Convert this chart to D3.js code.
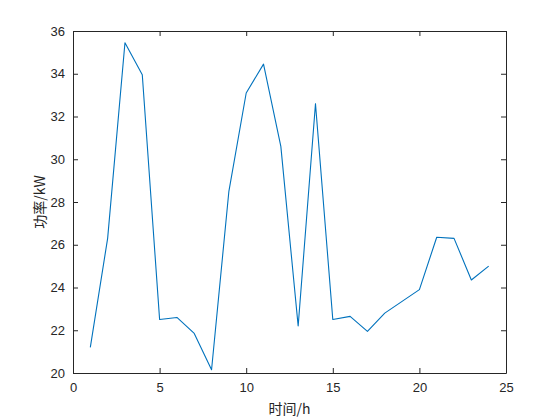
<!DOCTYPE html>
<html>
<head>
<meta charset="utf-8">
<script src="https://cdn.jsdelivr.net/npm/d3@7"></script>
<style>
  body { margin: 0; background: #fff; }
  text { font-family: "Liberation Sans", Arial, sans-serif; }
</style>
</head>
<body>
<svg width="560" height="420"></svg>
<script>
// hours and power readings
const hours = [1, 2, 3, 4, 5, 6, 7, 8, 9, 10, 11, 12, 13, 14, 15, 16, 17, 18, 19, 20, 21, 22, 23, 24];
const power = [21.2, 26.3, 35.45, 33.95, 22.5, 22.6, 21.85, 20.15, 28.5, 33.1, 34.45, 30.6,
               22.2, 32.6, 22.5, 22.65, 21.95, 22.8, 23.35, 23.9, 26.35, 26.3, 24.35, 25.0];
const xTicks = [0, 5, 10, 15, 20, 25];
const yTicks = [20, 22, 24, 26, 28, 30, 32, 34, 36];

const margin = {top: 31, right: 54, bottom: 47, left: 73},
      width = 560 - margin.left - margin.right,
      height = 420 - margin.top - margin.bottom;

const axisColor = "#262626";

const svg = d3.select("svg")
  .append("g")
    .attr("transform", `translate(${margin.left},${margin.top})`);

const x = d3.scaleLinear().domain([0, 25]).range([0, width]);
const y = d3.scaleLinear().domain([20, 36]).range([height, 0]);

// axes: ticks pointing inward, on all four sides (box on)
function styleAxis(g) {
  g.selectAll("path, line").attr("stroke", axisColor);
  g.selectAll("text").attr("fill", axisColor).style("font-size", "13px");
}

svg.append("g")
  .attr("transform", `translate(0,${height})`)
  .call(d3.axisBottom(x).tickValues(xTicks).tickSizeInner(-5).tickSizeOuter(0).tickPadding(10))
  .call(styleAxis);

svg.append("g")
  .call(d3.axisLeft(y).tickValues(yTicks).tickSizeInner(-5).tickSizeOuter(0).tickPadding(8))
  .call(styleAxis);

svg.append("g")
  .call(d3.axisTop(x).tickValues(xTicks).tickSizeInner(-5).tickSizeOuter(0).tickFormat(""))
  .call(styleAxis);

svg.append("g")
  .attr("transform", `translate(${width},0)`)
  .call(d3.axisRight(y).tickValues(yTicks).tickSizeInner(-5).tickSizeOuter(0).tickFormat(""))
  .call(styleAxis);

// the line
svg.append("path")
  .datum(hours.map((h, i) => [h, power[i]]))
  .attr("fill", "none")
  .attr("stroke", "#0072BD")
  .attr("stroke-width", 1.1)
  .attr("stroke-linejoin", "round")
  .attr("d", d3.line().x(d => x(d[0])).y(d => y(d[1])));

// axis labels
svg.append("text")
  .attr("x", width / 2)
  .attr("y", height + 41)
  .attr("text-anchor", "middle")
  .attr("fill", axisColor)
  .style("font-family", "'Noto Sans CJK SC', sans-serif")
  .style("font-size", "14px")
  .text("时间/h");

svg.append("text")
  .attr("transform", "rotate(-90)")
  .attr("x", -height / 2)
  .attr("y", -28)
  .attr("text-anchor", "middle")
  .attr("fill", axisColor)
  .style("font-family", "'Noto Sans CJK SC', sans-serif")
  .style("font-size", "14px")
  .text("功率/kW");
</script>
</body>
</html>
